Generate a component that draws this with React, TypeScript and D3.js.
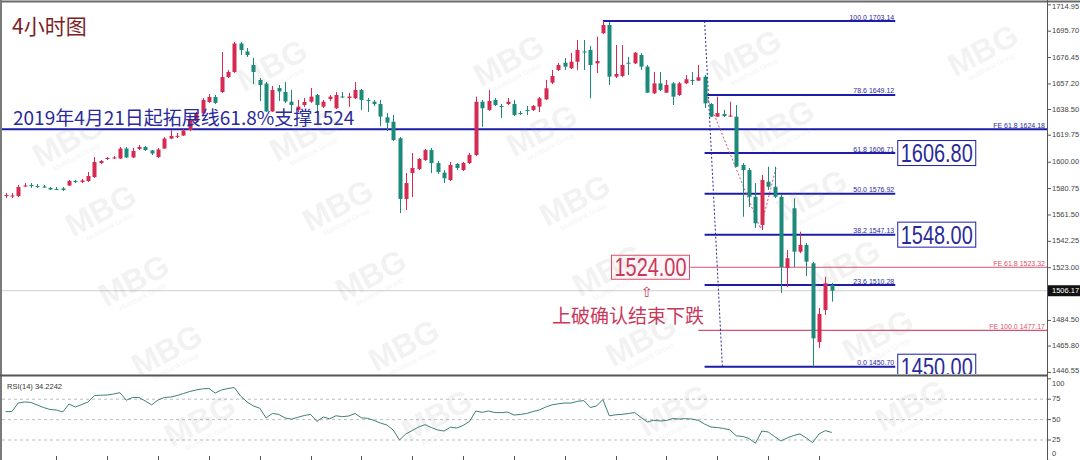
import React from 'react';
import * as d3 from 'd3';

const W = 1080;
const H = 460;

// ---- 4h candles (gold) ----
const opens = [
  1575.3, 1575.3, 1575.3, 1582.7, 1583.4, 1582.7, 1582.3, 1581.2, 1580.5, 1580.8,
  1583.0, 1586.3, 1585.6, 1586.3, 1589.2, 1599.4, 1602.7, 1603.1, 1602.7, 1610.0,
  1603.5, 1609.7, 1611.1, 1608.6, 1603.8, 1610.0, 1617.3, 1619.2, 1619.5, 1623.5,
  1630.1, 1635.6, 1644.0, 1647.6, 1651.3, 1662.2, 1665.9, 1686.7, 1680.9, 1671.0,
  1660.1, 1657.5, 1637.1, 1654.2, 1651.3, 1644.2, 1638.2, 1641.8, 1644.2, 1649.1,
  1640.6, 1646.2, 1639.4, 1648.0, 1646.9, 1646.7, 1652.8, 1645.5, 1644.2, 1642.5,
  1632.8, 1629.6, 1617.5, 1573.2, 1592.1, 1595.1, 1601.6, 1608.9, 1599.4, 1592.4,
  1587.0, 1598.7, 1594.3, 1599.4, 1605.3, 1644.2, 1638.2, 1645.5, 1641.1, 1642.5,
  1642.5, 1635.9, 1638.2, 1638.2, 1640.6, 1645.9, 1658.1, 1667.4, 1672.7, 1668.6,
  1673.4, 1680.9, 1682.0, 1672.2, 1694.2, 1700.2, 1662.5, 1663.0, 1672.7, 1672.2,
  1678.3, 1669.8, 1650.3, 1657.6, 1650.8, 1657.6, 1649.1, 1657.6, 1660.1, 1659.6,
  1662.5, 1642.5, 1633.3, 1635.2, 1633.8, 1633.3, 1598.0, 1594.3, 1574.8, 1554.2,
  1585.8, 1582.1, 1574.8, 1522.8, 1566.4, 1534.7, 1539.6, 1526.2, 1468.7, 1492.1,
  1510.4,
];
const highs = [
  1577.5, 1577.5, 1583.4, 1584.8, 1584.8, 1584.1, 1583.4, 1581.9, 1581.9, 1581.9,
  1587.0, 1587.0, 1587.8, 1592.9, 1603.8, 1601.6, 1603.8, 1604.6, 1611.1, 1611.1,
  1610.4, 1612.6, 1611.9, 1608.9, 1610.4, 1618.4, 1623.5, 1621.4, 1624.3, 1631.6,
  1636.7, 1646.9, 1649.8, 1649.1, 1680.5, 1667.4, 1687.8, 1687.8, 1683.4, 1676.1,
  1661.5, 1658.6, 1655.7, 1656.4, 1658.6, 1652.8, 1645.5, 1646.9, 1654.2, 1649.8,
  1645.5, 1649.1, 1651.3, 1651.3, 1650.6, 1658.6, 1653.5, 1646.9, 1645.5, 1645.5,
  1635.9, 1634.5, 1618.4, 1592.1, 1606.7, 1603.1, 1609.7, 1610.4, 1600.9, 1594.3,
  1600.2, 1599.4, 1600.2, 1606.7, 1647.9, 1645.5, 1652.8, 1646.9, 1642.5, 1646.9,
  1645.5, 1637.4, 1641.1, 1641.8, 1647.6, 1660.1, 1667.4, 1672.5, 1676.1, 1679.8,
  1689.3, 1689.3, 1684.9, 1691.7, 1703.14, 1702.4, 1685.6, 1685.6, 1676.9, 1680.5,
  1679.8, 1671.0, 1665.9, 1665.9, 1660.1, 1658.6, 1658.6, 1663.7, 1665.9, 1671.0,
  1663.7, 1643.3, 1647.9, 1638.2, 1644.2, 1641.8, 1599.4, 1595.8, 1584.8, 1590.7,
  1596.7, 1596.7, 1576.1, 1535.9, 1573.7, 1549.3, 1541.0, 1527.2, 1493.6, 1516.4,
  1511.9,
];
const lows = [
  1573.9, 1573.9, 1574.6, 1581.9, 1581.2, 1581.2, 1581.2, 1579.7, 1579.7, 1579.0,
  1582.7, 1584.8, 1584.8, 1585.6, 1588.5, 1598.7, 1601.6, 1602.4, 1602.4, 1603.1,
  1603.1, 1608.9, 1608.2, 1605.3, 1603.1, 1609.7, 1616.9, 1617.7, 1619.2, 1622.8,
  1629.4, 1635.2, 1643.3, 1642.5, 1650.6, 1661.5, 1665.2, 1678.3, 1676.9, 1657.1,
  1644.7, 1636.7, 1636.7, 1644.7, 1643.3, 1636.0, 1636.7, 1640.4, 1643.3, 1636.0,
  1639.6, 1644.7, 1638.9, 1646.9, 1640.4, 1646.2, 1638.2, 1636.7, 1641.1, 1626.5,
  1622.8, 1615.5, 1562.9, 1565.1, 1574.6, 1594.3, 1600.9, 1592.1, 1591.4, 1584.8,
  1586.3, 1594.3, 1593.6, 1598.7, 1604.6, 1625.9, 1637.4, 1641.1, 1632.3, 1641.8,
  1633.8, 1634.5, 1634.5, 1637.4, 1636.7, 1645.5, 1657.1, 1666.6, 1667.4, 1668.1,
  1667.4, 1667.4, 1646.7, 1665.2, 1693.7, 1656.4, 1661.5, 1662.2, 1663.7, 1671.7,
  1667.4, 1650.6, 1649.8, 1652.0, 1650.6, 1641.8, 1648.4, 1657.1, 1656.4, 1659.3,
  1639.6, 1633.0, 1633.0, 1633.0, 1633.0, 1596.5, 1560.2, 1567.3, 1552.0, 1550.5,
  1579.7, 1573.9, 1504.5, 1508.9, 1523.5, 1533.7, 1516.9, 1450.70, 1464.4, 1488.5,
  1498.2,
];
const closes = [
  1576.1, 1575.7, 1581.9, 1583.0, 1583.3, 1582.3, 1581.9, 1580.1, 1580.4, 1579.7,
  1586.3, 1585.6, 1586.7, 1589.9, 1600.2, 1600.9, 1603.1, 1603.5, 1610.0, 1603.5,
  1608.2, 1611.1, 1608.9, 1606.4, 1609.3, 1617.3, 1619.2, 1619.3, 1623.2, 1630.9,
  1635.2, 1645.5, 1647.6, 1643.3, 1662.2, 1665.9, 1686.7, 1682.0, 1678.3, 1665.9,
  1656.4, 1637.1, 1652.8, 1651.7, 1644.4, 1641.8, 1640.6, 1644.0, 1647.9, 1641.8,
  1644.2, 1647.9, 1649.1, 1647.3, 1648.0, 1652.8, 1645.5, 1645.1, 1642.5, 1633.3,
  1628.9, 1616.2, 1573.2, 1584.8, 1595.8, 1602.4, 1608.9, 1599.4, 1592.9, 1588.3,
  1598.0, 1595.8, 1599.4, 1605.3, 1644.2, 1639.4, 1644.7, 1641.8, 1640.7, 1644.2,
  1634.5, 1635.6, 1637.8, 1641.1, 1646.7, 1654.0, 1663.0, 1671.0, 1669.8, 1673.4,
  1682.0, 1680.5, 1671.0, 1673.9, 1700.2, 1662.5, 1664.4, 1671.0, 1672.2, 1680.0,
  1669.8, 1650.8, 1657.6, 1652.8, 1656.4, 1647.9, 1657.6, 1660.6, 1659.7, 1662.0,
  1643.0, 1633.3, 1635.9, 1633.8, 1634.1, 1596.8, 1594.3, 1574.8, 1555.4, 1587.0,
  1582.1, 1574.8, 1523.5, 1529.9, 1534.7, 1539.6, 1527.4, 1471.4, 1489.2, 1511.6,
  1506.17,
];

// ---- RSI(14) ----
const rsi14 = [
  59.8, 59.8, 70.3, 71.6, 71.0, 67.9, 64.8, 62.4, 61.8, 59.3,
  69.1, 65.4, 68.5, 71.6, 79.5, 79.9, 80.1, 81.4, 83.0, 73.7,
  77.1, 77.1, 72.8, 68.1, 74.0, 77.1, 77.7, 79.5, 82.0, 84.4,
  86.3, 87.7, 88.1, 82.6, 86.3, 88.1, 89.3, 78.9, 71.6, 66.7,
  64.0, 52.0, 57.6, 56.3, 52.0, 50.5, 52.8, 55.0, 56.4, 47.9,
  53.2, 51.0, 54.7, 53.6, 54.4, 57.5, 52.2, 51.5, 48.9, 45.8,
  43.4, 37.3, 25.0, 32.4, 36.6, 40.9, 43.8, 40.3, 37.3, 36.0,
  40.6, 39.7, 42.8, 47.7, 60.5, 58.9, 60.5, 58.7, 58.5, 59.3,
  55.6, 56.3, 57.5, 59.9, 61.8, 65.4, 68.1, 69.4, 70.3, 70.3,
  72.4, 73.3, 64.8, 66.7, 74.5, 54.7, 55.9, 56.4, 57.5, 58.7,
  52.6, 47.1, 49.1, 48.3, 48.9, 51.3, 50.7, 51.1, 50.7, 49.1,
  44.6, 40.9, 40.2, 39.1, 37.3, 30.1, 29.3, 26.8, 21.0, 36.0,
  34.8, 29.3, 23.8, 27.5, 30.5, 32.4, 27.5, 21.8, 32.4, 36.5,
  34.2242,
];

// ---- axes ----
const priceTicks = [1714.95, 1695.70, 1676.45, 1657.20, 1638.50, 1619.75, 1600.00, 1580.75, 1561.50, 1542.25, 1523.00, 1484.50, 1465.80, 1446.55];
const rsiTicks = [100, 75, 50, 25, 0];
const rsiLevels = [75, 50, 25];
const timeTickIdx = [8, 16, 24, 32, 40, 48, 56, 64, 72, 80, 88, 96, 104, 112, 120, 128];

// ---- Fibonacci retracement (1703.14 -> 1450.70) ----
const fibRatios = ['100.0', '78.6', '61.8', '50.0', '38.2', '23.6', '0.0'];
const fibPrices = [1703.14, 1649.12, 1606.71, 1576.92, 1547.13, 1510.28, 1450.70];
const fibStartIdx = [94, 110, 110, 110, 110, 110, 110];
const fibEndIdx = 140;
const fibTrendIdx = [110, 112.8];

// ---- Fibonacci expansion levels ----
const feLabels = ['FE 61.8', 'FE 61.8', 'FE 100.0'];
const fePrices = [1624.18, 1523.32, 1477.17];
const feStartIdx = [-1, 107.8, 109];
const feColors = ['blue', 'red', 'red'];
const feTrendIdx = [110.3, 118.8, 121.3];
const feTrendPrice = [1648.5, 1551.5, 1597.0];

// ---- annotation boxes ----
const boxTexts = ['1606.80', '1548.00', '1450.00'];
const boxLevels = [1606.71, 1547.13, 1450.70];
const redBoxText = '1524.00';
const redBoxLevel = 1523.32;
const lastPrice = 1506.17;

const titleText = '4小时图';
const noteText = '2019年4月21日起拓展线61.8%支撑1524';
const redNote = '上破确认结束下跌';
const rsiLabel = 'RSI(14) 34.2242';

const UP = '#d62a52';
const DOWN = '#1b8a7a';
const BLUE = '#1c1ca8';
const BLUE_T = '#2a2a9a';
const RED = '#d8506e';
const RED_T = '#c8385a';
const AX = "'Liberation Sans', Arial, sans-serif";
const CJK = "'Noto Sans CJK SC', sans-serif";

const PLOT_R = 1047;
const MAIN_B = 374;

export default function App() {
  const x = d3.scaleLinear().domain([0, 130]).range([5.5, 831.7]);
  const y = d3.scaleLinear().domain([1450.70, 1703.14]).range([366.7, 21]);
  const yr = d3.scaleLinear().domain([0, 100]).range([460.4, 378.8]);

  const rsiLine = d3.line<number>().x((_, i) => x(i)).y((d) => yr(d));
  const feTrend = d3.line<number>().x((d) => x(d)).y((_, i) => y(feTrendPrice[i]));

  const wm: { x: number; y: number }[] = [];
  for (let c = 0; c < 5; c++) {
    for (let r = -1; r < 6; r++) {
      const px = 40 + 237 * c + 33 * r;
      const py = 80 - 5 * c + 70 * r;
      if (px > 45 && px < 1000 && py > 30 && py < 435) wm.push({ x: px, y: py });
    }
  }

  const boxX = x(fibEndIdx) + 2.5;

  return (
    <div style={{ position: 'fixed', left: 0, top: 0 }}>
      <svg width={W} height={H} viewBox={`0 0 ${W} ${H}`} style={{ display: 'block', background: '#fff' }}>
        <defs>
          <clipPath id="mainClip">
            <rect x={2} y={3} width={PLOT_R - 2} height={MAIN_B - 3} />
          </clipPath>
          <clipPath id="rsiClip">
            <rect x={2} y={377} width={PLOT_R - 2} height={H - 377} />
          </clipPath>
        </defs>

        {/* frame */}
        <rect x={0} y={0} width={W} height={H} fill="#fff" />
        <line x1={0} y1={1.5} x2={W} y2={1.5} stroke="#6a6a6a" strokeWidth={2} />
        <line x1={1} y1={0} x2={1} y2={H} stroke="#7a7a7a" strokeWidth={2} />
        <line x1={PLOT_R + 0.5} y1={0} x2={PLOT_R + 0.5} y2={H} stroke="#555" strokeWidth={1} />
        <line x1={0} y1={MAIN_B + 1.5} x2={PLOT_R} y2={MAIN_B + 1.5} stroke="#555" strokeWidth={2} />

        <g clipPath="url(#mainClip)">
          {/* bid line */}
          <line x1={0} x2={PLOT_R} y1={y(lastPrice)} y2={y(lastPrice)} stroke="#cfcfcf" strokeWidth={1} />

          {/* FE levels */}
          {fePrices.map((p, k) => (
            <g key={'fe' + k}>
              <line
                x1={Math.max(0, x(feStartIdx[k]))}
                x2={PLOT_R}
                y1={y(p)}
                y2={y(p)}
                stroke={feColors[k] === 'blue' ? BLUE : RED}
                strokeWidth={feColors[k] === 'blue' ? 2 : 1.2}
              />
              <text
                x={PLOT_R - 2}
                y={y(p) - 1.5}
                textAnchor="end"
                fontFamily={AX}
                fontSize={7}
                fill={feColors[k] === 'blue' ? BLUE_T : RED}
              >
                {feLabels[k]}  {p.toFixed(2)}
              </text>
            </g>
          ))}

          {/* fib retracement levels */}
          {fibPrices.map((p, k) => (
            <g key={'fib' + k}>
              <line x1={x(fibStartIdx[k])} x2={x(fibEndIdx)} y1={y(p)} y2={y(p)} stroke={BLUE} strokeWidth={2} />
              <text x={x(fibEndIdx) - 1} y={y(p) - 1.5} textAnchor="end" fontFamily={AX} fontSize={7} fill={BLUE_T}>
                {fibRatios[k]}  {p.toFixed(2)}
              </text>
            </g>
          ))}
          <line
            x1={x(fibTrendIdx[0])}
            y1={y(fibPrices[0])}
            x2={x(fibTrendIdx[1])}
            y2={y(fibPrices[6])}
            stroke={BLUE_T}
            strokeWidth={1}
            strokeDasharray="2,2"
          />
          <path d={feTrend(feTrendIdx) || ''} fill="none" stroke={RED} strokeWidth={1} strokeDasharray="2,2" />

          {/* candles */}
          {opens.map((o, i) => {
            const c = closes[i];
            const up = c >= o;
            const col = up ? UP : DOWN;
            const cx = Math.round(x(i)) + 0.5;
            const top = y(Math.max(o, c));
            const bot = y(Math.min(o, c));
            return (
              <g key={'c' + i}>
                <line x1={cx} x2={cx} y1={y(highs[i])} y2={y(lows[i])} stroke={col} strokeWidth={1} />
                <rect x={cx - 2} y={top} width={4} height={Math.max(1, bot - top)} fill={col} />
              </g>
            );
          })}

          {/* blue boxes */}
          {boxTexts.map((t, k) => (
            <g key={'box' + k}>
              <rect x={boxX} y={y(boxLevels[k]) - 12.5} width={78} height={25} fill="#fff" stroke={BLUE} strokeWidth={1} />
              <text
                x={boxX + 39}
                y={y(boxLevels[k]) + 9}
                textAnchor="middle"
                fontFamily={AX}
                fontSize={25}
                fill={BLUE_T}
                textLength={72}
                lengthAdjust="spacingAndGlyphs"
              >
                {t}
              </text>
            </g>
          ))}

          {/* red box + note */}
          <rect x={611.5} y={y(redBoxLevel) - 12} width={78} height={24} fill="#fff6f8" stroke={RED} strokeWidth={1} />
          <line x1={689.5} x2={x(107.8)} y1={y(redBoxLevel)} y2={y(redBoxLevel)} stroke="#999" strokeWidth={1} />
          <text
            x={650.5}
            y={y(redBoxLevel) + 9}
            textAnchor="middle"
            fontFamily={AX}
            fontSize={25}
            fill={RED_T}
            textLength={72}
            lengthAdjust="spacingAndGlyphs"
          >
            {redBoxText}
          </text>
          <text x={646.5} y={296.5} textAnchor="middle" fontFamily="'DejaVu Sans', sans-serif" fontSize={14} fill={RED_T}>
            ⇧
          </text>
          <text x={628} y={322.5} textAnchor="middle" fontFamily={CJK} fontSize={19} fill={RED_T}>
            {redNote}
          </text>

          {/* title & note */}
          <text x={12} y={34} fontFamily={CJK} fontSize={21} fill="#7a2222">
            {titleText}
          </text>
          <text x={13} y={125} fontFamily={CJK} fontSize={19} fill={BLUE_T}>
            {noteText}
          </text>
        </g>

        {/* price axis */}
        {priceTicks.map((p, k) => (
          <g key={'pt' + k}>
            <line x1={PLOT_R} x2={PLOT_R + 4} y1={y(p)} y2={y(p)} stroke="#555" />
            <text
              x={PLOT_R + 5}
              y={Math.min(Math.max(y(p), 7), 371)}
              dominantBaseline="middle"
              fontFamily={AX}
              fontSize={7.5}
              fill="#444"
            >
              {p.toFixed(2)}
            </text>
          </g>
        ))}
        <rect x={PLOT_R + 1} y={y(lastPrice) - 5.5} width={W - PLOT_R - 1} height={11} fill="#111" />
        <text x={PLOT_R + 5} y={y(lastPrice)} dominantBaseline="middle" fontFamily={AX} fontSize={7.5} fill="#fff">
          {lastPrice.toFixed(2)}
        </text>

        {/* RSI panel */}
        <g clipPath="url(#rsiClip)">
          {rsiLevels.map((v) => (
            <line key={'rl' + v} x1={2} x2={PLOT_R} y1={yr(v)} y2={yr(v)} stroke="#bdbdbd" strokeWidth={1} strokeDasharray="3,3" />
          ))}
          <path d={rsiLine(rsi14) || ''} fill="none" stroke="#3f7f78" strokeWidth={1} />
          <text x={7} y={389} fontFamily={AX} fontSize={7.5} fill="#333">
            {rsiLabel}
          </text>
        </g>
        {rsiTicks.map((v) => (
          <g key={'rt' + v}>
            <line x1={PLOT_R} x2={PLOT_R + 4} y1={yr(v)} y2={yr(v)} stroke="#555" />
            <text
              x={PLOT_R + 5}
              y={Math.min(Math.max(yr(v), 384), 454)}
              dominantBaseline="middle"
              fontFamily={AX}
              fontSize={7.5}
              fill="#444"
            >
              {v}
            </text>
          </g>
        ))}
        {timeTickIdx.map((i) => (
          <line key={'tt' + i} x1={Math.round(x(i)) + 0.5} x2={Math.round(x(i)) + 0.5} y1={456} y2={460} stroke="#555" />
        ))}

        {/* watermarks */}
        <g opacity={0.11} pointerEvents="none">
          {wm.map((p, k) => (
            <g key={'wm' + k} transform={`translate(${p.x},${p.y}) rotate(-28)`}>
              <text textAnchor="middle" fontFamily={AX} fontWeight="bold" fontSize={32} fill="#8a8a8a">
                MBG
              </text>
              <text y={10} textAnchor="middle" fontFamily={AX} fontSize={7} fill="#8a8a8a">
                MultiBank Group
              </text>
            </g>
          ))}
        </g>
      </svg>
    </div>
  );
}
